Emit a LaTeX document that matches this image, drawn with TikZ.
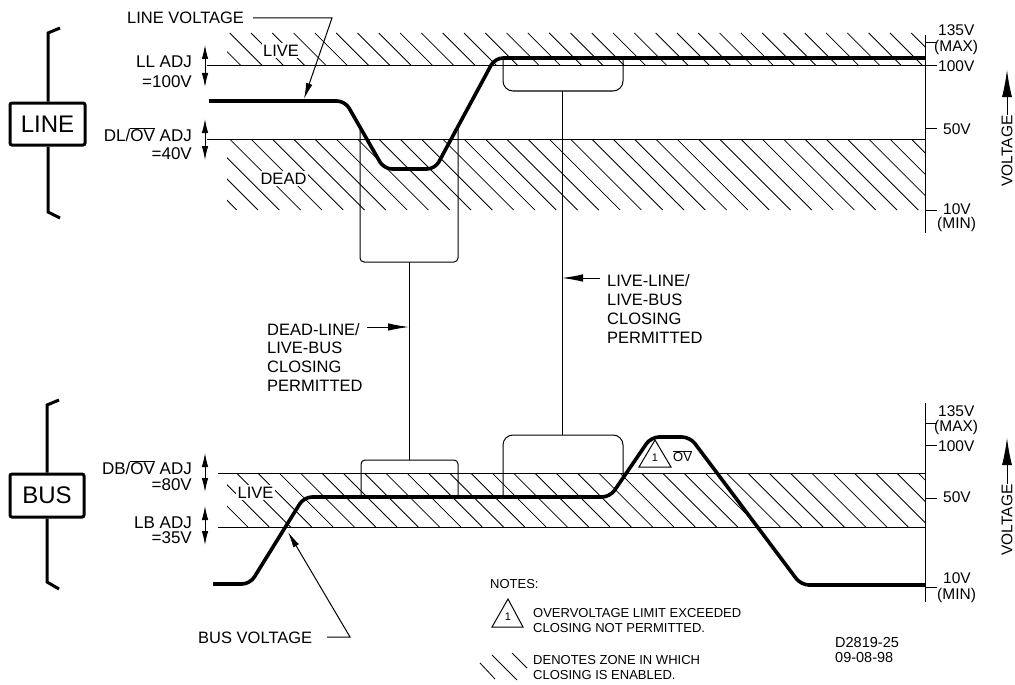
\documentclass[tikz,border=0pt]{standalone}
\usepackage{fontspec}
\setmainfont{Liberation Sans}
\usetikzlibrary{arrows.meta}
\newcommand{\ovbar}[1]{$\overline{\mbox{#1}}$}
\begin{document}
\begin{tikzpicture}[x=1pt,y=-1pt,
  fine/.style={line width=1pt},
  hatchline/.style={line width=0.8pt},
  curve/.style={line width=3.6pt, rounded corners=8pt, line join=round},
  brace/.style={line width=3pt},
  ptr/.style={fine, -{Latex[length=16pt,width=6.5pt]}},
  bigptr/.style={fine, -{Latex[length=21pt,width=7.5pt]}},
  volptr/.style={fine, -{Latex[length=27pt,width=10pt]}},
  dbl/.style={fine, {Latex[length=14pt,width=6.5pt]}-{Latex[length=14pt,width=6.5pt]}},
  lbl/.style={font=\fontsize{17}{20}\selectfont, inner sep=0pt},
  mid/.style={font=\fontsize{16.5}{19}\selectfont, inner sep=0pt},
  ax/.style={font=\fontsize{15.5}{18}\selectfont, inner sep=0pt},
  note/.style={font=\fontsize{13}{15}\selectfont, inner sep=0pt},
  zone/.style={font=\fontsize{16.5}{19}\selectfont, fill=white, inner sep=1.5pt},
  big/.style={font=\fontsize{24}{28}\selectfont, inner sep=0pt}
]
\useasboundingbox (0,0) rectangle (1015,685);

% ---------- hatch bands ----------
\begin{scope}
  \clip (227,33) rectangle (925,66);
  \foreach \i in {0,...,36} \draw[hatchline] ({187.1+21.3*\i},33) -- ++(33,33);
\end{scope}
\begin{scope}
  \clip (227,139) rectangle (925,210);
  \foreach \i in {0,...,38} \draw[hatchline] ({144.4+21.3*\i},139) -- ++(71,71);
\end{scope}
\begin{scope}
  \clip (227,473) rectangle (925,527);
  \foreach \i in {0,...,38} \draw[hatchline] ({151.3+21.3*\i},473) -- ++(54,54);
\end{scope}

% ---------- level lines ----------
\draw[fine] (207,66) -- (925,66);
\draw[fine] (207,139) -- (925,139);
\draw[fine] (218,473) -- (925,473);
\draw[fine] (218,527) -- (925,527);

% ---------- axes ----------
\coordinate (axT1) at (925,35);  \coordinate (axT2) at (925,233);
\coordinate (axB1) at (925,403); \coordinate (axB2) at (925,602);
\draw[fine] (axT1) -- (axT2);
\draw[fine] (axB1) -- (axB2);
\foreach \y in {43,66,128,210} \draw[fine] (925,\y) -- ++(12,0);
\foreach \y in {423,445,498,587} \draw[fine] (925,\y) -- ++(12,0);

\node[ax, anchor=base west] (t135) at (938,35.4) {135V};
\node[ax, anchor=base west] (tmax) at (934,51.4) {(MAX)};
\node[ax, anchor=base west] (t100) at (938,71.4) {100V};
\node[ax, anchor=base west] (t50)  at (943,134.4) {50V};
\node[ax, anchor=base west] (t10)  at (943,214.4) {10V};
\node[ax, anchor=base west] (tmin) at (937,228.4) {(MIN)};

\node[ax, anchor=base west] (b135) at (938,416.4) {135V};
\node[ax, anchor=base west] (bmax) at (934,431.4) {(MAX)};
\node[ax, anchor=base west] (b100) at (938,451.4) {100V};
\node[ax, anchor=base west] (b50)  at (943,502.4) {50V};
\node[ax, anchor=base west] (b10)  at (943,583.4) {10V};
\node[ax, anchor=base west] (bmin) at (937,599.4) {(MIN)};

% VOLTAGE arrows
\node[ax, rotate=90] (voltT) at (1007,151) {VOLTAGE};
\coordinate (vTtip) at (1007,70);
\draw[volptr] (voltT.east) -- (vTtip);
\node[ax, rotate=90] (voltB) at (1007,520) {VOLTAGE};
\coordinate (vBtip) at (1007,438);
\draw[volptr] (voltB.east) -- (vBtip);

% ---------- closing boxes ----------
\draw[fine, rounded corners=4pt] (360,127) -- (360,262) -- (458,262) -- (458,126);
\draw[fine, rounded corners=10pt] (503,58) -- (503,91) -- (623,91) -- (623,58);
\draw[fine, rounded corners=4pt] (361,497) -- (361,460) -- (458,460) -- (458,497);
\draw[fine, rounded corners=10pt] (503,497) -- (503,435) -- (623,435) -- (623,478);

\coordinate (dlTop) at (409,262); \coordinate (dlBot) at (409,460);
\coordinate (llTop) at (562,91);  \coordinate (llBot) at (562,435);
\draw[fine] (dlTop) -- (dlBot);
\draw[fine] (llTop) -- (llBot);

% ---------- voltage curves ----------
\draw[curve] (209,101) -- (345,101) -- (384,169) -- (435,169) -- (495,58) -- (925,58);
\draw[curve] (213,584) -- (250,584) -- (304,497) -- (610,497) -- (651,437) -- (690,437) -- (801,585) -- (925,585);

% ---------- zone labels ----------
\node[zone] (liveT) at (281,50.5) {LIVE};
\node[zone] (deadT) at (283.5,178.5) {DEAD};
\node[zone] (liveB) at (255.5,492.5) {LIVE};

% ---------- LINE / BUS brackets ----------
\node[big, draw, line width=3pt, rounded corners=2pt, minimum width=75pt, minimum height=42pt] (linebox) at (47.5,124) {LINE};
\draw[brace] (60,28) -- (48,33) -- (linebox.north -| 48,0);
\draw[brace] (linebox.south -| 48,0) -- (48,212) -- (60,218);
\node[big, draw, line width=3pt, rounded corners=2pt, minimum width=74pt, minimum height=43pt] (busbox) at (47,495.5) {BUS};
\draw[brace] (59,400) -- (47,405) -- (busbox.north -| 47,0);
\draw[brace] (busbox.south -| 47,0) -- (47,582) -- (59,589);

% ---------- adjustment labels ----------
\node[lbl, anchor=base east] (llA) at (192,68) {LL ADJ};
\node[lbl, anchor=base east] (llB) at (192,88) {=100V};
\node[lbl, anchor=base east] (dlA) at (192,141) {DL/\ovbar{OV} ADJ};
\node[lbl, anchor=base east] (dlB) at (192,159) {=40V};
\node[lbl, anchor=base east] (dbA) at (192,474) {DB/\ovbar{OV} ADJ};
\node[lbl, anchor=base east] (dbB) at (192,490) {=80V};
\node[lbl, anchor=base east] (lbA) at (192,528) {LB ADJ};
\node[lbl, anchor=base east] (lbB) at (192,543) {=35V};
\draw[dbl] (205,45) -- (205,87);
\draw[dbl] (205,119) -- (205,160);
\draw[dbl] (205,453) -- (205,492);
\draw[dbl] (205,506) -- (205,545);

% ---------- LINE / BUS VOLTAGE callouts ----------
\node[mid, anchor=base west] (lvlbl) at (127,24) {LINE VOLTAGE};
\coordinate (lvK) at (332,18); \coordinate (lvTip) at (304,99);
\draw[ptr] (253,18) -- (lvK) -- (lvTip);
\node[mid, anchor=base west] (bvlbl) at (198,643) {BUS VOLTAGE};
\coordinate (bvK) at (350,637); \coordinate (bvTip) at (288,532);
\draw[ptr] (327,637) -- (bvK) -- (bvTip);

% ---------- middle labels ----------
\node[mid, anchor=base west] (dl1) at (267,335) {DEAD-LINE/};
\node[mid, anchor=base west] (dl2) at (267,353.7) {LIVE-BUS};
\node[mid, anchor=base west] (dl3) at (267,372.4) {CLOSING};
\node[mid, anchor=base west] (dl4) at (267,391) {PERMITTED};
\draw[bigptr] (367,327) -- (dlTop |- 0,327);

\node[mid, anchor=base west] (ll1) at (607,286) {LIVE-LINE/};
\node[mid, anchor=base west] (ll2) at (607,305) {LIVE-BUS};
\node[mid, anchor=base west] (ll3) at (607,324) {CLOSING};
\node[mid, anchor=base west] (ll4) at (607,343) {PERMITTED};
\draw[bigptr] (600,278) -- (llTop |- 0,278);

% ---------- overvoltage flag ----------
\draw[fine] (655,440) -- (639,467) -- (671,467) -- cycle;
\node[note, font=\fontsize{11}{13}\selectfont] (ov1) at (655,458) {1};
\node[note, anchor=base west] (ovl) at (673,461.5) {\ovbar{OV}};

% ---------- notes ----------
\node[note, anchor=base west] (notes) at (490,588.7) {NOTES:};
\draw[fine] (508,599) -- (492,627) -- (523,627) -- cycle;
\node[note, font=\fontsize{11}{13}\selectfont] (n1) at (508,617) {1};
\node[note, anchor=base west] (nA) at (533,617.6) {OVERVOLTAGE LIMIT EXCEEDED};
\node[note, anchor=base west] (nB) at (533,632.6) {CLOSING NOT PERMITTED.};
\draw[hatchline] (480,663) -- (495,679);
\draw[hatchline] (492,655) -- (517,680);
\draw[hatchline] (512,653) -- (527,668);
\node[note, anchor=base west] (nC) at (533,664.6) {DENOTES ZONE IN WHICH};
\node[note, anchor=base west] (nD) at (533,679.6) {CLOSING IS ENABLED.};

\node[ax, font=\fontsize{14.5}{17}\selectfont, anchor=base west] (dwg) at (835,647) {D2819-25};
\node[ax, font=\fontsize{14.5}{17}\selectfont, anchor=base west] (date) at (835,662) {09-08-98};
\end{tikzpicture}
\end{document}
